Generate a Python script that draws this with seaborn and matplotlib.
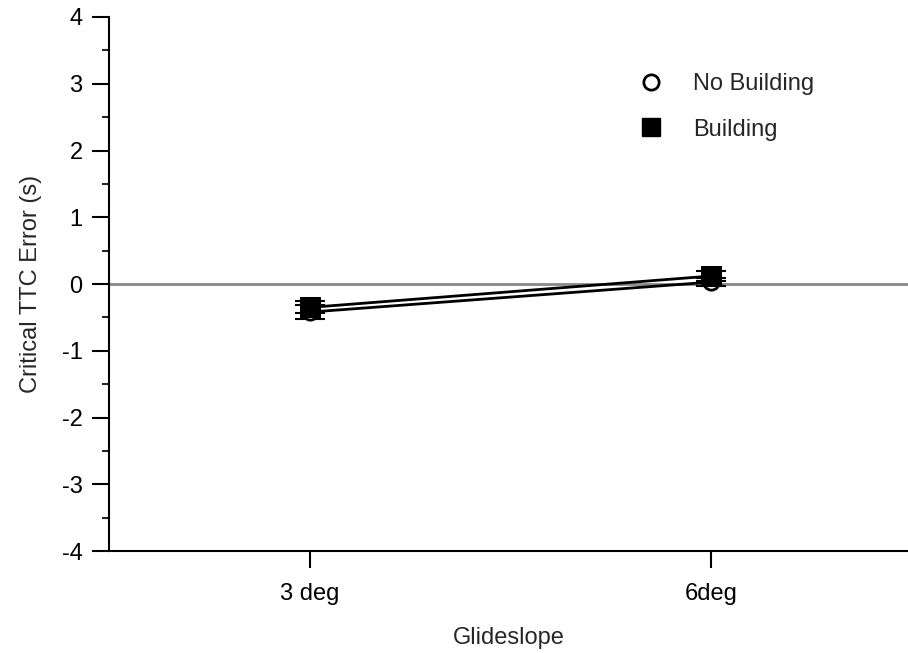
import matplotlib.pyplot as plt
import numpy as np
import pandas as pd
import seaborn as sns

glideslopes = ["3 deg", "6deg"]
no_building = [-0.42, 0.03]
no_building_err = [0.10, 0.06]
building = [-0.35, 0.12]
building_err = [0.09, 0.07]

sns.set_style("ticks")
plt.rcParams['font.family'] = ['Liberation Sans', 'DejaVu Sans']
plt.rcParams['axes.unicode_minus'] = False

FS = 17

df = pd.DataFrame({
    "Glideslope": glideslopes * 2,
    "err": no_building + building,
    "cond": ["No Building"] * 2 + ["Building"] * 2,
})

fig = plt.figure(figsize=(9.08, 6.53), dpi=100)
ax = fig.add_axes([0.12, 0.156, 0.88, 0.818])

ax.axhline(0, color="#888888", lw=2, zorder=1)

x = np.arange(len(glideslopes))
ax.errorbar(x, no_building, yerr=no_building_err, fmt="none", ecolor="black",
            elinewidth=1.5, capsize=11, capthick=1.5, zorder=2)
ax.errorbar(x, building, yerr=building_err, fmt="none", ecolor="black",
            elinewidth=1.5, capsize=11, capthick=1.5, zorder=2)

sns.lineplot(data=df, x="Glideslope", y="err", hue="cond", style="cond",
             hue_order=["No Building", "Building"],
             palette={"No Building": "black", "Building": "black"},
             markers={"No Building": "o", "Building": "s"},
             dashes={"No Building": "", "Building": ""},
             lw=2, ax=ax, legend=False, zorder=3)
for ln in ax.get_lines():
    if ln.get_marker() == "o":
        ln.set_markerfacecolor("white")
        ln.set_markeredgecolor("black")
        ln.set_markersize(11)
        ln.set_markeredgewidth(2)
    elif ln.get_marker() == "s":
        ln.set_markerfacecolor("black")
        ln.set_markeredgecolor("black")
        ln.set_markersize(15)

# legend with proxy handles
h1 = plt.Line2D([], [], marker="o", ls="", mfc="white", mec="black", ms=11, mew=2)
h2 = plt.Line2D([], [], marker="s", ls="", mfc="black", mec="black", ms=13)
ax.legend([h1, h2], ["No Building", "Building"], frameon=False, fontsize=FS,
          loc="upper left", bbox_to_anchor=(0.63, 0.935), handletextpad=1.0,
          labelspacing=1.0, handlelength=1.5)

ax.set_xlim(-0.5, 1.49)
ax.set_ylim(-4, 4)
ax.set_yticks(range(-4, 5))
ax.set_yticks(np.arange(-3.5, 4, 1), minor=True)
ax.set_xticks(x)
ax.set_xticklabels(glideslopes)
ax.tick_params(axis="both", which="major", labelsize=FS, length=12, width=1.5,
               color="black", labelcolor="black")
ax.tick_params(axis="y", which="major", pad=7)
ax.tick_params(axis="x", which="major", pad=11)
ax.tick_params(axis="y", which="minor", length=5, width=1.5)
ax.set_xlabel("Glideslope", fontsize=FS, labelpad=16)
ax.set_ylabel("Critical TTC Error (s)", fontsize=FS, labelpad=14)

for side in ["left", "bottom"]:
    ax.spines[side].set_linewidth(1.5)
    ax.spines[side].set_color("black")
ax.spines["top"].set_visible(False)
ax.spines["right"].set_visible(False)

fig.savefig("out.png", dpi=100)
